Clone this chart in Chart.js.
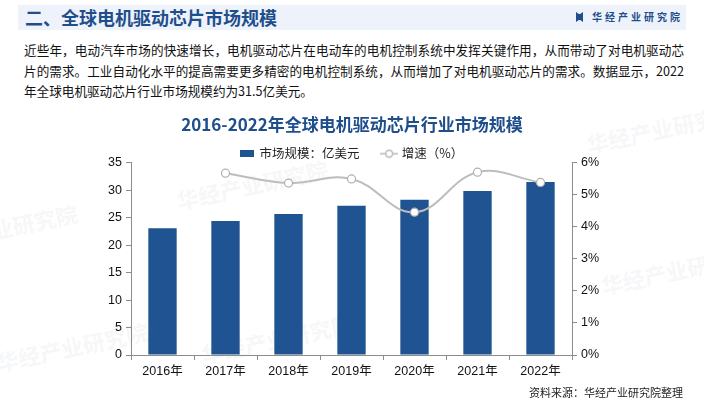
<!DOCTYPE html>
<html>
<head>
<meta charset="utf-8">
<script src="https://cdn.jsdelivr.net/npm/chart.js@4"></script>
<style>
  body { margin: 0; width: 704px; height: 400px; background: #fff; position: relative; overflow: hidden;
         font-family: "Liberation Sans", "Noto Sans CJK SC", sans-serif; }
  .band { position: absolute; left: 18px; top: 5px; width: 668px; height: 25px; background: #eef3fb; }
  .h1 { position: absolute; left: 25px; top: 4px; font-size: 18px; font-weight: bold; color: #1f4e8c; line-height: 26px; font-family: "Noto Sans CJK SC", sans-serif; }
  .logo { position: absolute; left: 592px; top: 10px; font-size: 10px; font-weight: bold; color: #1f4e8c; letter-spacing: 3px; line-height: 14px; font-family: "Noto Sans CJK SC", sans-serif; }
  .icon { position: absolute; left: 576px; top: 12px; width: 7px; height: 10px; background: #1f4e8c; clip-path: polygon(0 0, 40% 20%, 60% 20%, 100% 0, 100% 100%, 60% 80%, 40% 80%, 0 100%); }
  .para { position: absolute; left: 24px; top: 40px; width: 660px; font-size: 12.6px; line-height: 20.5px; color: #111; font-family: "Noto Sans CJK SC", sans-serif; }
  .para div { white-space: nowrap; text-align: justify; text-align-last: justify; }
  .para div.last { text-align-last: left; }
  .src { position: absolute; right: 21px; top: 384px; font-size: 11px; color: #222; font-family: "Noto Sans CJK SC", sans-serif; }
  .wm { position: absolute; font-size: 22px; font-weight: bold; color: rgba(200,205,215,0.18); transform: rotate(-12deg); white-space: nowrap; font-family: "Noto Sans CJK SC", sans-serif; }
  #wrap { position: absolute; left: 0; top: 100px; width: 704px; height: 300px; }
</style>
</head>
<body>
<div class="band"></div>
<div class="h1">二、全球电机驱动芯片市场规模</div>
<div class="icon"></div>
<div class="logo">华经产业研究院</div>
<div class="para">
  <div>近些年，电动汽车市场的快速增长，电机驱动芯片在电动车的电机控制系统中发挥关键作用，从而带动了对电机驱动芯</div>
  <div>片的需求。工业自动化水平的提高需要更多精密的电机控制系统，从而增加了对电机驱动芯片的需求。数据显示，2022</div>
  <div class="last">年全球电机驱动芯片行业市场规模约为31.5亿美元。</div>
</div>
<div class="wm" style="left:175px;top:168px;">华经产业研究院</div>
<div class="wm" style="left:-10px;top:205px;">业研究院</div>
<div class="wm" style="left:585px;top:112px;">华经产业研究院</div>
<div class="wm" style="left:600px;top:258px;">华经产业研</div>
<div class="wm" style="left:200px;top:322px;">华经产业研究院</div>
<div class="wm" style="left:-5px;top:330px;">华经产业研究院</div>
<div id="wrap"><canvas id="myChart"></canvas></div>
<div class="src">资料来源：华经产业研究院整理</div>
<script>
const years = ['2016年', '2017年', '2018年', '2019年', '2020年', '2021年', '2022年'];
const marketSize = [23.1, 24.4, 25.7, 27.2, 28.3, 29.9, 31.5];
const growthRate = [null, 5.68, 5.37, 5.5, 4.46, 5.71, 5.39];
const leftTicks = [0, 5, 10, 15, 20, 25, 30, 35];
const rightTicks = [0, 1, 2, 3, 4, 5, 6];

// legend symbols
function barIcon() {
    const c = document.createElement('canvas');
    c.width = 14; c.height = 7;
    const g = c.getContext('2d');
    g.fillStyle = '#1f5392';
    g.fillRect(0, 0, 14, 7);
    return c;
}
function lineIcon() {
    const c = document.createElement('canvas');
    c.width = 18; c.height = 10;
    const g = c.getContext('2d');
    g.strokeStyle = '#b8b8b8'; g.lineWidth = 1.5;
    g.beginPath(); g.moveTo(0, 5); g.lineTo(18, 5); g.stroke();
    g.fillStyle = '#fff';
    g.beginPath(); g.arc(9, 5, 3.5, 0, Math.PI * 2); g.fill(); g.stroke();
    return c;
}

// trims the legend box so the plot starts where the reference does
const legendTrim = {
    id: 'legendTrim',
    afterInit(chart) {
        const fit = chart.legend.fit;
        chart.legend.fit = function () {
            fit.call(this);
            this.height -= 7;
        };
    }
};

const axisGray = '#8c8c8c';
const tickFont = { family: '"Liberation Sans", "Noto Sans CJK SC", sans-serif', size: 12.5 };

const ctx = document.getElementById('myChart').getContext('2d');
const myChart = new Chart(ctx, {
    data: {
        labels: years,
        datasets: [{
            type: 'line',
            label: '增速（%）',
            data: growthRate,
            yAxisID: 'y1',
            borderColor: '#bdbdbd',
            borderWidth: 2,
            tension: 0.4,
            pointRadius: 4,
            pointBackgroundColor: '#fff',
            pointBorderColor: '#b0b0b0',
            pointBorderWidth: 1.2,
            pointStyle: 'circle',
            order: 1
        }, {
            type: 'bar',
            label: '市场规模：亿美元　 ',
            data: marketSize,
            yAxisID: 'y',
            backgroundColor: '#1f5392',
            barPercentage: 0.45,
            categoryPercentage: 1,
            order: 2
        }]
    },
    plugins: [legendTrim],
    options: {
        responsive: true,
        maintainAspectRatio: false,
        animation: false,
        layout: { padding: { top: 14, bottom: 15, left: 0, right: 0 } },
        plugins: {
            title: {
                display: true,
                text: '2016-2022年全球电机驱动芯片行业市场规模',
                color: '#1f4e8c',
                font: { family: '"Noto Sans CJK SC", sans-serif', size: 17, weight: 'bold' },
                padding: { top: 0, bottom: 5 }
            },
            legend: {
                reverse: true,
                labels: {
                    usePointStyle: true,
                    color: '#222',
                    font: { family: '"Noto Sans CJK SC", sans-serif', size: 12.5 },
                    padding: 8,
                    generateLabels: chart => chart.data.datasets.map((ds, i) => ({
                        text: ds.label,
                        pointStyle: ds.type === 'bar' ? barIcon() : lineIcon(),
                        datasetIndex: i,
                        fontColor: '#222',
                        lineWidth: 0,
                        strokeStyle: 'transparent',
                        fillStyle: 'transparent'
                    }))
                }
            },
            tooltip: { enabled: false }
        },
        scales: {
            x: {
                grid: { display: true, drawOnChartArea: false, drawTicks: true, tickLength: 5, color: axisGray, offset: true },
                border: { color: axisGray },
                ticks: { color: '#111', font: tickFont, padding: 4 },
                afterFit: s => { s.height = 30; }
            },
            y: {
                position: 'left',
                min: 0, max: 35,
                afterBuildTicks: s => { s.ticks = leftTicks.map(v => ({ value: v })); },
                grid: { drawOnChartArea: false, drawTicks: true, tickLength: 5, color: axisGray },
                border: { color: axisGray },
                ticks: { color: '#111', font: tickFont, padding: 4 },
                afterFit: s => { s.width = 131; }
            },
            y1: {
                position: 'right',
                min: 0, max: 6,
                afterBuildTicks: s => { s.ticks = rightTicks.map(v => ({ value: v })); },
                grid: { drawOnChartArea: false, drawTicks: true, tickLength: 5, color: axisGray },
                border: { color: axisGray },
                ticks: { color: '#111', font: tickFont, padding: 4, callback: v => v + '%' },
                afterFit: s => { s.width = 132; }
            }
        }
    }
});
</script>
</body>
</html>
